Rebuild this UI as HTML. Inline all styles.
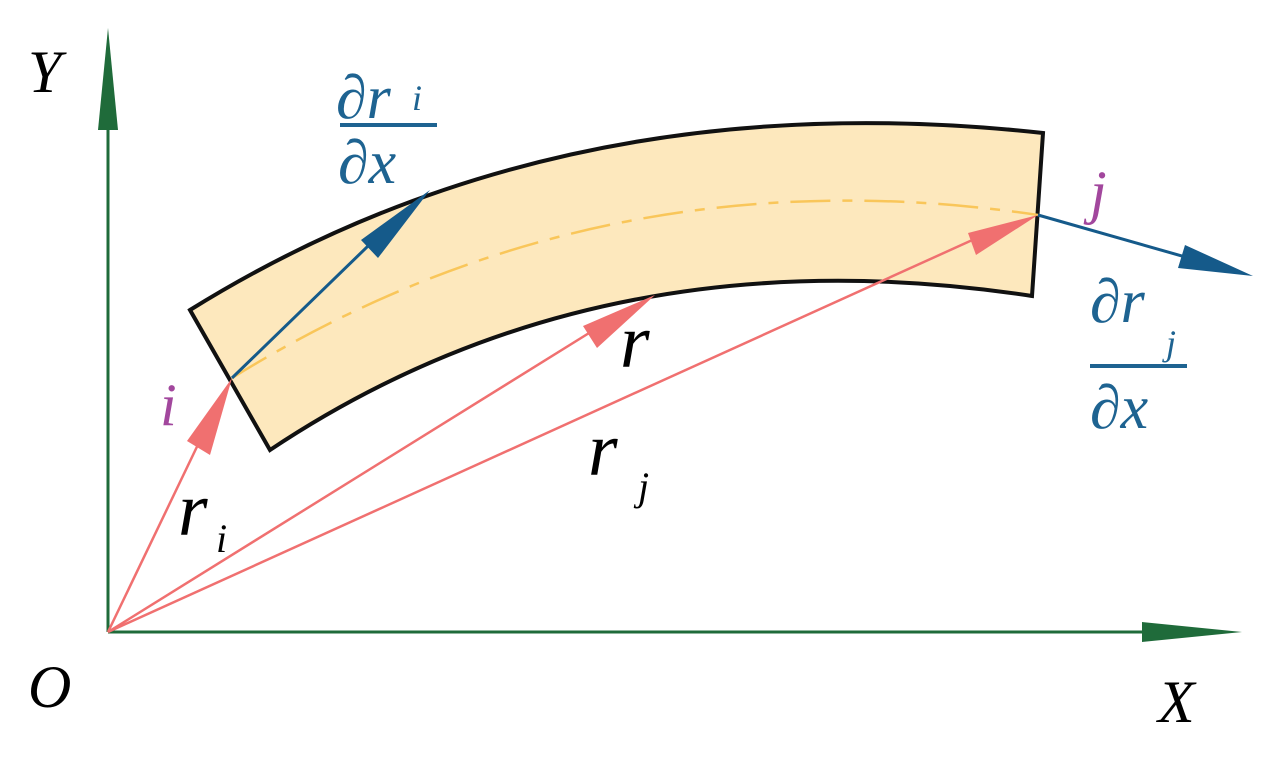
<!DOCTYPE html>
<html><head><meta charset="utf-8"><style>body{margin:0;background:#fff}svg{display:block}svg text{font-family:'Liberation Serif','DejaVu Serif',serif;font-style:italic}</style></head><body>
<svg width="1275" height="764" viewBox="0 0 1275 764" xmlns="http://www.w3.org/2000/svg">
<path d="M190,310 Q560,80 1043,133 L1032,296 Q600,230 270,450 Z" fill="#fde8bd" stroke="#111" stroke-width="4" stroke-linejoin="miter"/>
<path d="M232,378 Q600,150 1038,215" fill="none" stroke="#f9c65a" stroke-width="2.5" stroke-dasharray="40,12,10,12"/>
<g stroke="#1f6b3a" stroke-width="3" fill="#1f6b3a">
<line x1="108" y1="632" x2="108" y2="90"/><polygon points="108,28 98,130 118,130" stroke="none"/>
<line x1="108" y1="632" x2="1180" y2="632"/><polygon points="1242,632 1142,622 1142,642" stroke="none"/>
</g>
<g stroke="#f07070" stroke-width="2.5" fill="#f07070">
<line x1="108" y1="632" x2="205" y2="430"/><polygon points="232,378 210,455 187,441" stroke="none"/>
<line x1="108" y1="632" x2="610" y2="320"/><polygon points="655,295 597,348 583,326" stroke="none"/>
<line x1="108" y1="632" x2="990" y2="232"/><polygon points="1038,215 976,255 968,233" stroke="none"/>
</g>
<g stroke="#155a8a" stroke-width="3" fill="#155a8a">
<line x1="232" y1="378" x2="400" y2="215"/><polygon points="430,190 378,258 361,240" stroke="none"/>
<line x1="1038" y1="215" x2="1210" y2="264"/><polygon points="1253,276 1178,268 1185,245" stroke="none"/>
</g>
<text x="28" y="92" font-size="60">Y</text>
<text x="28" y="707" font-size="60">O</text>
<text x="1158" y="722" font-size="60">X</text>
<text x="160" y="425" font-size="60" fill="#a2479d">i</text>
<text x="1090" y="212" font-size="60" fill="#a2479d">j</text>
<text x="178" y="535" font-size="76">r</text><text x="216" y="552" font-size="40">i</text>
<text x="620" y="367" font-size="76">r</text>
<text x="588" y="475" font-size="76">r</text><text x="638" y="500" font-size="40">j</text>
<g fill="#1e6391">
<text x="336" y="118" font-size="62">∂r</text><text x="412" y="110" font-size="36">i</text>
<rect x="340" y="123" width="97" height="4"/>
<text x="338" y="183" font-size="62">∂x</text>
<text x="1090" y="322" font-size="62">∂r</text><text x="1166" y="355" font-size="36">j</text>
<rect x="1090" y="364" width="97" height="4"/>
<text x="1090" y="428" font-size="62">∂x</text>
</g>
</svg>
</body></html>
